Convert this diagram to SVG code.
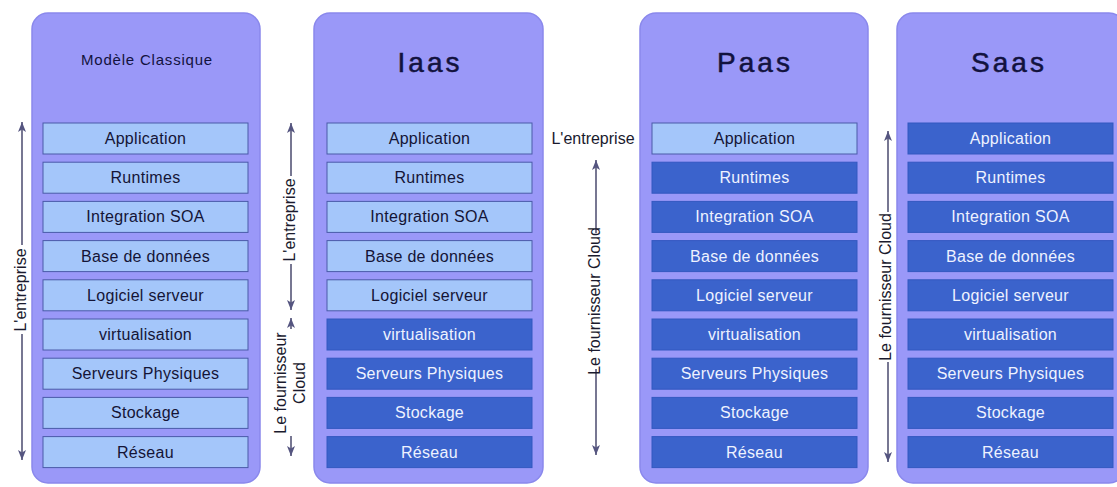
<svg xmlns="http://www.w3.org/2000/svg" width="1117" height="487" viewBox="0 0 1117 487">
<style>
.panel{fill:#9a98f8;stroke:#8a88ec;stroke-width:1.5}
.lb{fill:#a4c6fa;stroke:#4a5aa8;stroke-width:1}
.db{fill:#3b63cc;stroke:#3358c0;stroke-width:1}
.lt{font-family:"Liberation Sans",Arial,sans-serif;font-size:16px;fill:#141436;text-anchor:middle;letter-spacing:0.3px}
.dt{font-family:"Liberation Sans",Arial,sans-serif;font-size:16px;fill:#eef2ff;text-anchor:middle;letter-spacing:0.3px}
.title{font-family:"Liberation Sans",Arial,sans-serif;font-size:28px;fill:#12123e;stroke:#12123e;stroke-width:0.5;text-anchor:middle;letter-spacing:3px}
.sub{font-family:"Liberation Sans",Arial,sans-serif;font-size:15px;fill:#12123e;text-anchor:middle;letter-spacing:0.8px}
.ar{stroke:#4a4a6e;stroke-width:1.5;fill:none}
.al{font-family:"Liberation Sans",Arial,sans-serif;font-size:16px;fill:#1a1a2e;text-anchor:middle}
</style>
<defs>
<marker id="ah" viewBox="0 0 10 8" refX="10" refY="4" markerWidth="10" markerHeight="8" markerUnits="userSpaceOnUse" orient="auto-start-reverse">
<path d="M0,0 L10,4 L0,8 L2.5,4 z" fill="#555580"/>
</marker>
</defs>
<rect width="1117" height="487" fill="#ffffff"/>

<g id="classique">
<rect class="panel" x="32" y="13" width="228" height="470" rx="16"/>
<text class="sub" x="147" y="65">Modèle Classique</text>
<g id="c-app"><rect class="lb" x="43" y="123" width="205" height="31"/><text class="lt" x="145.5" y="144">Application</text></g>
<g id="c-run"><rect class="lb" x="43" y="162.2" width="205" height="31"/><text class="lt" x="145.5" y="183.2">Runtimes</text></g>
<g id="c-soa"><rect class="lb" x="43" y="201.4" width="205" height="31"/><text class="lt" x="145.5" y="222.4">Integration SOA</text></g>
<g id="c-bdd"><rect class="lb" x="43" y="240.6" width="205" height="31"/><text class="lt" x="145.5" y="261.6">Base de données</text></g>
<g id="c-log"><rect class="lb" x="43" y="279.8" width="205" height="31"/><text class="lt" x="145.5" y="300.8">Logiciel serveur</text></g>
<g id="c-vir"><rect class="lb" x="43" y="319" width="205" height="31"/><text class="lt" x="145.5" y="340">virtualisation</text></g>
<g id="c-srv"><rect class="lb" x="43" y="358.2" width="205" height="31"/><text class="lt" x="145.5" y="379.2">Serveurs Physiques</text></g>
<g id="c-sto"><rect class="lb" x="43" y="397.4" width="205" height="31"/><text class="lt" x="145.5" y="418.4">Stockage</text></g>
<g id="c-res"><rect class="lb" x="43" y="436.6" width="205" height="31"/><text class="lt" x="145.5" y="457.6">Réseau</text></g>
</g>

<g id="iaas">
<rect class="panel" x="314" y="13" width="229" height="470" rx="16"/>
<text class="title" x="430" y="72">Iaas</text>
<g id="i-app"><rect class="lb" x="327" y="123" width="205" height="31"/><text class="lt" x="429.5" y="144">Application</text></g>
<g id="i-run"><rect class="lb" x="327" y="162.2" width="205" height="31"/><text class="lt" x="429.5" y="183.2">Runtimes</text></g>
<g id="i-soa"><rect class="lb" x="327" y="201.4" width="205" height="31"/><text class="lt" x="429.5" y="222.4">Integration SOA</text></g>
<g id="i-bdd"><rect class="lb" x="327" y="240.6" width="205" height="31"/><text class="lt" x="429.5" y="261.6">Base de données</text></g>
<g id="i-log"><rect class="lb" x="327" y="279.8" width="205" height="31"/><text class="lt" x="429.5" y="300.8">Logiciel serveur</text></g>
<g id="i-vir"><rect class="db" x="327" y="319" width="205" height="31"/><text class="dt" x="429.5" y="340">virtualisation</text></g>
<g id="i-srv"><rect class="db" x="327" y="358.2" width="205" height="31"/><text class="dt" x="429.5" y="379.2">Serveurs Physiques</text></g>
<g id="i-sto"><rect class="db" x="327" y="397.4" width="205" height="31"/><text class="dt" x="429.5" y="418.4">Stockage</text></g>
<g id="i-res"><rect class="db" x="327" y="436.6" width="205" height="31"/><text class="dt" x="429.5" y="457.6">Réseau</text></g>
</g>

<g id="paas">
<rect class="panel" x="640" y="13" width="228" height="470" rx="16"/>
<text class="title" x="755" y="72">Paas</text>
<g id="p-app"><rect class="lb" x="652" y="123" width="205" height="31"/><text class="lt" x="754.5" y="144">Application</text></g>
<g id="p-run"><rect class="db" x="652" y="162.2" width="205" height="31"/><text class="dt" x="754.5" y="183.2">Runtimes</text></g>
<g id="p-soa"><rect class="db" x="652" y="201.4" width="205" height="31"/><text class="dt" x="754.5" y="222.4">Integration SOA</text></g>
<g id="p-bdd"><rect class="db" x="652" y="240.6" width="205" height="31"/><text class="dt" x="754.5" y="261.6">Base de données</text></g>
<g id="p-log"><rect class="db" x="652" y="279.8" width="205" height="31"/><text class="dt" x="754.5" y="300.8">Logiciel serveur</text></g>
<g id="p-vir"><rect class="db" x="652" y="319" width="205" height="31"/><text class="dt" x="754.5" y="340">virtualisation</text></g>
<g id="p-srv"><rect class="db" x="652" y="358.2" width="205" height="31"/><text class="dt" x="754.5" y="379.2">Serveurs Physiques</text></g>
<g id="p-sto"><rect class="db" x="652" y="397.4" width="205" height="31"/><text class="dt" x="754.5" y="418.4">Stockage</text></g>
<g id="p-res"><rect class="db" x="652" y="436.6" width="205" height="31"/><text class="dt" x="754.5" y="457.6">Réseau</text></g>
</g>

<g id="saas">
<rect class="panel" x="897" y="13" width="228" height="470" rx="16"/>
<text class="title" x="1009" y="72">Saas</text>
<g id="s-app"><rect class="db" x="908" y="123" width="205" height="31"/><text class="dt" x="1010.5" y="144">Application</text></g>
<g id="s-run"><rect class="db" x="908" y="162.2" width="205" height="31"/><text class="dt" x="1010.5" y="183.2">Runtimes</text></g>
<g id="s-soa"><rect class="db" x="908" y="201.4" width="205" height="31"/><text class="dt" x="1010.5" y="222.4">Integration SOA</text></g>
<g id="s-bdd"><rect class="db" x="908" y="240.6" width="205" height="31"/><text class="dt" x="1010.5" y="261.6">Base de données</text></g>
<g id="s-log"><rect class="db" x="908" y="279.8" width="205" height="31"/><text class="dt" x="1010.5" y="300.8">Logiciel serveur</text></g>
<g id="s-vir"><rect class="db" x="908" y="319" width="205" height="31"/><text class="dt" x="1010.5" y="340">virtualisation</text></g>
<g id="s-srv"><rect class="db" x="908" y="358.2" width="205" height="31"/><text class="dt" x="1010.5" y="379.2">Serveurs Physiques</text></g>
<g id="s-sto"><rect class="db" x="908" y="397.4" width="205" height="31"/><text class="dt" x="1010.5" y="418.4">Stockage</text></g>
<g id="s-res"><rect class="db" x="908" y="436.6" width="205" height="31"/><text class="dt" x="1010.5" y="457.6">Réseau</text></g>
</g>

<g id="connectors">
<line class="ar" x1="22" y1="245" x2="22" y2="122" marker-end="url(#ah)"/>
<line class="ar" x1="22" y1="334" x2="22" y2="460" marker-end="url(#ah)"/>
<text class="al" transform="translate(26,290) rotate(-90)">L'entreprise</text>

<line class="ar" x1="291" y1="176" x2="291" y2="123" marker-end="url(#ah)"/>
<line class="ar" x1="291" y1="264" x2="291" y2="310" marker-end="url(#ah)"/>
<text class="al" transform="translate(295,220) rotate(-90)">L'entreprise</text>

<line class="ar" x1="291" y1="329" x2="291" y2="318" marker-end="url(#ah)"/>
<line class="ar" x1="291" y1="436" x2="291" y2="456" marker-end="url(#ah)"/>
<text class="al" transform="translate(286,383) rotate(-90)">Le fournisseur</text>
<text class="al" transform="translate(305,383) rotate(-90)">Cloud</text>

<text class="al" x="593" y="144">L'entreprise</text>
<line class="ar" x1="596" y1="233" x2="596" y2="160" marker-end="url(#ah)"/>
<line class="ar" x1="596" y1="369" x2="596" y2="455" marker-end="url(#ah)"/>
<text class="al" transform="translate(600,301) rotate(-90)">Le fournisseur Cloud</text>

<line class="ar" x1="888" y1="212" x2="888" y2="131" marker-end="url(#ah)"/>
<line class="ar" x1="888" y1="362" x2="888" y2="462" marker-end="url(#ah)"/>
<text class="al" transform="translate(891,287) rotate(-90)">Le fournisseur Cloud</text>
</g>
</svg>
